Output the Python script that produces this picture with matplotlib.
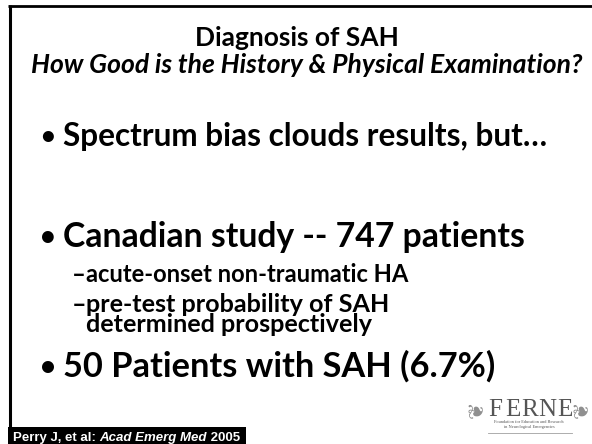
import matplotlib
matplotlib.use('Agg')
import matplotlib.pyplot as plt
from matplotlib.patches import Rectangle

# slide content
title = 'Diagnosis of SAH'
subtitle = 'How Good is the History & Physical Examination?'
bullets = ['Spectrum bias clouds results, but…',
           'Canadian study -- 747 patients',
           '50 Patients with SAH (6.7%)']
subbullets = [['acute-onset non-traumatic HA'],
              ['pre-test probability of SAH', 'determined prospectively']]
cite_parts = [('Perry J, et al: ', 'normal'), ('Acad Emerg Med', 'italic'), (' 2005', 'normal')]
logo_word = 'FERNE'
logo_sub = ['Foundation for Education and Research', 'in Neurological Emergencies']

W, H = 592, 444
FONT = 'Lato'

fig = plt.figure(figsize=(W / 100, H / 100), dpi=100)
ax = fig.add_axes([0, 0, 1, 1])
ax.set_xlim(0, W)
ax.set_ylim(H, 0)
ax.axis('off')
renderer = fig.canvas.get_renderer()


def fit(t, width):
    # scale font so the text spans the given pixel width
    w = t.get_window_extent(renderer).width
    t.set_fontsize(t.get_fontsize() * width / w)
    return t


# frame: top rule and left rule
ax.plot([8, W], [6, 6], color='black', lw=2.0, solid_capstyle='butt')
ax.plot([9.5, 9.5], [5, 428], color='black', lw=2.2, solid_capstyle='butt')

# title block
t = ax.text(297, 46, title, ha='center', va='baseline', fontsize=20,
            fontweight='bold', family=FONT)
fit(t, 204)
t = ax.text(307, 73, subtitle, ha='center', va='baseline', fontsize=14,
            fontweight='bold', style='italic', family=FONT)
fit(t, 552)

# bullets
bullet_y = [146, 247, 377]
bullet_w = [486, 462, 432]
for txt, y, w in zip(bullets, bullet_y, bullet_w):
    t = ax.text(63, y, txt, ha='left', va='baseline', fontsize=20,
                fontweight='bold', family=FONT)
    fit(t, w)
    ax.text(48, y - 2.5, '•', ha='center', va='baseline', fontsize=t.get_fontsize() * 0.8,
            fontweight='bold', family=FONT)

# sub-bullets
sub_y = [282, 312]
sub_w = [324, 304]
for lines, y, w in zip(subbullets, sub_y, sub_w):
    t0 = ax.text(86, y, lines[0], ha='left', va='baseline', fontsize=16,
                 fontweight='bold', family=FONT)
    fit(t0, w)
    ax.text(72, y, '–', ha='left', va='baseline', fontsize=t0.get_fontsize(),
            fontweight='bold', family=FONT)
    for k, line in enumerate(lines[1:], start=1):
        ax.text(86, y + 20 * k, line, ha='left', va='baseline',
                fontsize=t0.get_fontsize(), fontweight='bold', family=FONT)

# citation box
ax.add_patch(Rectangle((8, 427), 238, 17, facecolor='black', edgecolor='none'))


def draw_cite(size):
    x = 13
    objs = []
    for part, st in cite_parts:
        o = ax.text(x, 440.5, part, color='white', fontsize=size, fontweight='bold',
                    style=st, family='Liberation Sans', va='baseline', ha='left')
        x = o.get_window_extent(renderer).x1
        objs.append(o)
    return objs, x - 13


objs, total = draw_cite(9)
for o in objs:
    o.remove()
draw_cite(9 * 229 / total)

# FERNE logo
gray = '#555555'
lx0, lx1 = 495, 565
step = (lx1 - lx0) / (len(logo_word) - 1)
for i, ch in enumerate(logo_word):
    ax.text(lx0 + i * step, 416, ch, ha='center', va='baseline', fontsize=18,
            color=gray, family='Liberation Serif')
ax.text(477, 409, '❦', ha='center', va='center', fontsize=15, color='#8f8f8f',
        rotation=90, family='DejaVu Sans')
ax.text(582, 409, '❦', ha='center', va='center', fontsize=15, color='#8f8f8f',
        rotation=90, family='DejaVu Sans')
for k, line in enumerate(logo_sub):
    ax.text(529, 422 + 5 * k, line, ha='center', va='center', fontsize=3.2,
            color=gray, family='Liberation Serif')
ax.plot([488, 572], [433, 433], color='#a0a0a0', lw=0.6)

fig.savefig('out.png', dpi=100, facecolor='white')
